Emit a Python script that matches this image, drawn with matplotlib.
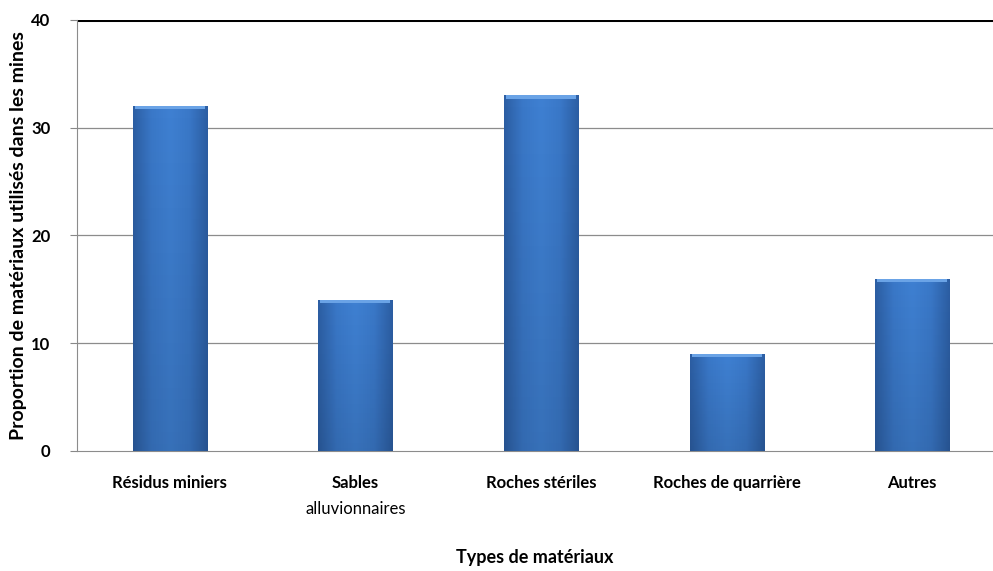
import numpy as np
import matplotlib.pyplot as plt
from matplotlib.colors import LinearSegmentedColormap

categories = ['Résidus miniers', 'Sables', 'Roches stériles', 'Roches de quarrière', 'Autres']
values = [32, 14, 33, 9, 16]
y_ticks = [0, 10, 20, 30, 40]

plt.rcParams['font.family'] = ['Lato', 'DejaVu Sans']

fig = plt.figure(figsize=(9.93, 5.71), dpi=100)
ax = fig.add_axes([0.0775, 0.2102, 0.9225, 0.755])

x = np.arange(len(categories))
width = 0.40
bars = ax.bar(x, values, width, color='#3a78c8', zorder=2)

# horizontal gradient to mimic the bevelled Excel bars
cmap = LinearSegmentedColormap.from_list('bev', ['#2c5ea3', '#3a78c8', '#3f80d2', '#3a78c8', '#2c5ea3'])
grad = np.linspace(0, 1, 256).reshape(1, -1)
vgrad = np.linspace(0, 1, 256).reshape(-1, 1)
for b in bars:
    x0, y0 = b.get_x(), b.get_y()
    w, h = b.get_width(), b.get_height()
    im = ax.imshow(grad, cmap=cmap, aspect='auto', extent=[x0, x0 + w, y0, y0 + h], zorder=3)
    im.set_clip_path(b)
    # darker towards the bottom
    shade = ax.imshow(vgrad, cmap=LinearSegmentedColormap.from_list('sh', [(0, 0, 0, 0.0), (0, 0, 0, 0.12)]),
                      aspect='auto', extent=[x0, x0 + w, y0, y0 + h], zorder=4)
    shade.set_clip_path(b)
    # light cap on top
    ax.bar(b.get_x() + w / 2, 0.3, w * 0.94, bottom=y0 + h - 0.3, color='#6aa3e6', zorder=5)

ax.set_xlim(-0.5, 4.435)
ax.set_ylim(0, 40)
ax.set_yticks(y_ticks)
ax.set_yticklabels([str(t) for t in y_ticks], fontweight='bold', fontsize=12)
ax.set_xticks(x)
ax.set_xticklabels(categories, fontweight='bold', fontsize=12)
ax.tick_params(axis='x', length=0, pad=17)
ax.tick_params(axis='y', length=5, color='#888888', pad=14)

ax.text(1, -0.135, 'alluvionnaires', transform=ax.get_xaxis_transform(),
        ha='center', va='center', fontsize=12)

for t in [10, 20, 30]:
    ax.axhline(t, color='#8c8c8c', lw=0.9, zorder=1)
ax.axhline(40, color='black', lw=2.2, zorder=1)

for s in ['top', 'right']:
    ax.spines[s].set_visible(False)
ax.spines['left'].set_color('#8c8c8c')
ax.spines['bottom'].set_color('#8c8c8c')

ax.set_ylabel('Proportion de matériaux utilisés dans les mines', fontweight='bold', fontsize=14)
ax.yaxis.set_label_coords(-0.064, 0.5)
ax.yaxis.label.set_va('center')
ax.set_xlabel('Types de matériaux', fontweight='bold', fontsize=13, labelpad=42)

fig.savefig('out.png', dpi=100)
